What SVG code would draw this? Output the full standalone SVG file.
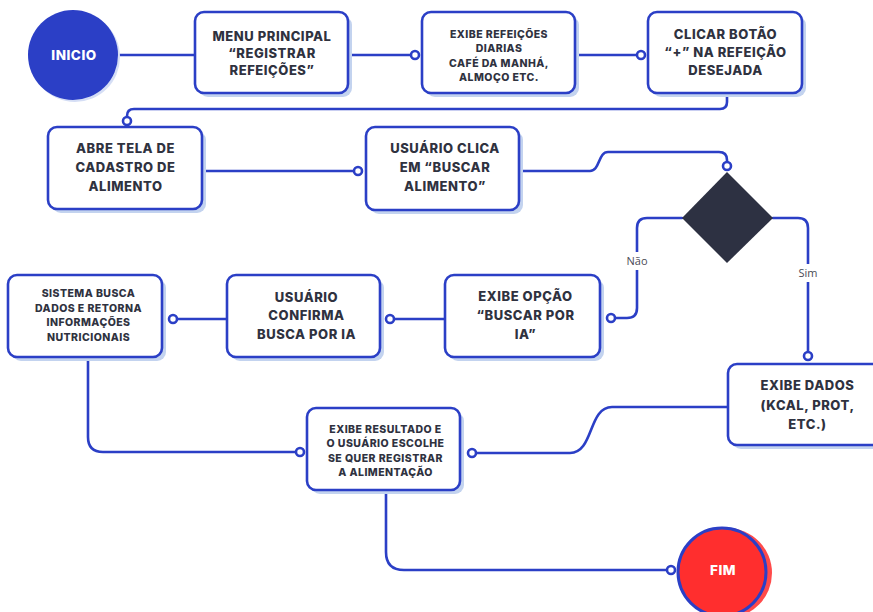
<svg xmlns="http://www.w3.org/2000/svg" width="873" height="612" viewBox="0 0 873 612">
<defs>
<style>
.box{fill:#ffffff;stroke:#2b3fc6;stroke-width:2.6}
.sh{fill:#c3d3ef}
.t{font-family:Inter,"Liberation Sans",sans-serif;font-weight:800;fill:#2f323f;text-anchor:middle}
.big{font-size:13px;letter-spacing:0.55px}
.sm{font-size:10.5px;letter-spacing:0.45px}
.w{font-family:Inter,"Liberation Sans",sans-serif;font-weight:800;fill:#ffffff;text-anchor:middle;font-size:13.5px;letter-spacing:0.5px}
.c{fill:none;stroke:#2b3fc6;stroke-width:2.6;stroke-linecap:round;stroke-linejoin:round}
.dot{fill:#ffffff;stroke:#2b3fc6;stroke-width:2.6}
.lbl{font-family:"Open Sans","Liberation Sans",sans-serif;font-size:11px;fill:#4a4a55;text-anchor:middle}
</style>
</defs>
<rect width="873" height="612" fill="#ffffff"/>

<g id="connectors">
<path class="c" d="M118,55 H195"/>
<path class="c" d="M348,55 H411"/>
<circle class="dot" cx="415" cy="55" r="4"/>
<path class="c" d="M575,55 H637"/>
<circle class="dot" cx="641" cy="55" r="4"/>
<path class="c" d="M727,93 V102 Q727,109 720,109 H134 Q127,109 127,116 V117"/>
<circle class="dot" cx="127" cy="121" r="4"/>
<path class="c" d="M202,171 H354"/>
<circle class="dot" cx="358" cy="171" r="4"/>
<path class="c" d="M519,171 H590 C600,171 598,152 608,152 H719 Q727,152 727,160 V162"/>
<circle class="dot" cx="727" cy="166" r="4"/>
<path class="c" d="M682,218 H647 Q637,218 637,228 V308 Q637,318 627,318 H615"/>
<circle class="dot" cx="611" cy="318" r="4"/>
<path class="c" d="M773,218 H798 Q808,218 808,228 V352"/>
<circle class="dot" cx="808" cy="356" r="4"/>
<path class="c" d="M445,319 H394"/>
<circle class="dot" cx="390" cy="319" r="4"/>
<path class="c" d="M227,319 H177"/>
<circle class="dot" cx="173" cy="319" r="4"/>
<path class="c" d="M88,357 V437 Q88,452 103,452 H296"/>
<circle class="dot" cx="300" cy="452" r="4"/>
<path class="c" d="M476,453 H570 C594,453 588,407 612,407 H728"/>
<circle class="dot" cx="472" cy="453" r="4"/>
<path class="c" d="M386,490 V552 Q386,570 404,570 H667"/>
<circle class="dot" cx="671" cy="570" r="4"/>
<rect x="624" y="252" width="26" height="18" fill="#ffffff"/>
<text class="lbl" x="637" y="265">Não</text>
<rect x="794" y="264" width="28" height="18" fill="#ffffff"/>
<text class="lbl" x="808" y="277">Sim</text>
</g>

<g id="inicio">
<circle cx="75" cy="57" r="45" fill="#d5def5"/>
<circle cx="73" cy="55" r="45" fill="#2b3fc6"/>
<text class="w" x="74" y="60">INICIO</text>
</g>

<g id="menu-principal">
<rect class="sh" x="199" y="16" width="153" height="81" rx="9"/>
<rect class="box" x="195" y="12" width="153" height="81" rx="9"/>
<text class="t big" x="272" y="40.5">MENU PRINCIPAL</text>
<text class="t big" x="272" y="58">“REGISTRAR</text>
<text class="t big" x="272" y="75">REFEIÇÕES”</text>
</g>

<g id="exibe-refeicoes">
<rect class="sh" x="426" y="16" width="153" height="81" rx="9"/>
<rect class="box" x="422" y="12" width="153" height="81" rx="9"/>
<text class="t sm" x="499" y="38">EXIBE REFEIÇÕES</text>
<text class="t sm" x="499" y="52">DIARIAS</text>
<text class="t sm" x="499" y="66.5">CAFÉ DA MANHÁ,</text>
<text class="t sm" x="499" y="81">ALMOÇO ETC.</text>
</g>

<g id="clicar-botao">
<rect class="sh" x="652" y="16" width="154" height="81" rx="9"/>
<rect class="box" x="648" y="12" width="154" height="81" rx="9"/>
<text class="t big" x="725.5" y="38.5">CLICAR BOTÃO</text>
<text class="t big" x="725.5" y="57">“+” NA REFEIÇÃO</text>
<text class="t big" x="725.5" y="75">DESEJADA</text>
</g>

<g id="abre-tela">
<rect class="sh" x="52" y="131" width="154" height="82" rx="9"/>
<rect class="box" x="48" y="127" width="154" height="82" rx="9"/>
<text class="t big" x="125.5" y="153">ABRE TELA DE</text>
<text class="t big" x="125.5" y="171.5">CADASTRO DE</text>
<text class="t big" x="125.5" y="190.5">ALIMENTO</text>
</g>

<g id="usuario-clica">
<rect class="sh" x="370" y="131" width="153" height="83" rx="9"/>
<rect class="box" x="366" y="127" width="153" height="83" rx="9"/>
<text class="t big" x="445" y="153.3">USUÁRIO CLICA</text>
<text class="t big" x="445" y="172.3">EM “BUSCAR</text>
<text class="t big" x="445" y="191">ALIMENTO”</text>
</g>

<g id="decisao">
<polygon points="727,172 773,218 727,263 682,218" fill="#2d3142"/>
</g>

<g id="sistema-busca">
<rect class="sh" x="12" y="279" width="154" height="82" rx="9"/>
<rect class="box" x="8" y="275" width="154" height="82" rx="9"/>
<text class="t sm" x="88.5" y="297.3">SISTEMA BUSCA</text>
<text class="t sm" x="88.5" y="311.7">DADOS E RETORNA</text>
<text class="t sm" x="88.5" y="326">INFORMAÇÕES</text>
<text class="t sm" x="88.5" y="340.7">NUTRICIONAIS</text>
</g>

<g id="usuario-confirma">
<rect class="sh" x="231" y="279" width="153" height="82" rx="9"/>
<rect class="box" x="227" y="275" width="153" height="82" rx="9"/>
<text class="t big" x="306.5" y="301.5">USUÁRIO</text>
<text class="t big" x="306.5" y="320">CONFIRMA</text>
<text class="t big" x="306.5" y="339">BUSCA POR IA</text>
</g>

<g id="exibe-opcao">
<rect class="sh" x="449" y="279" width="155" height="82" rx="9"/>
<rect class="box" x="445" y="275" width="155" height="82" rx="9"/>
<text class="t big" x="525.5" y="300.5">EXIBE OPÇÃO</text>
<text class="t big" x="525.5" y="320">“BUSCAR POR</text>
<text class="t big" x="525.5" y="338.5">IA”</text>
</g>

<g id="exibe-dados">
<rect class="sh" x="732" y="368" width="160" height="81" rx="9"/>
<rect class="box" x="728" y="364" width="160" height="81" rx="9"/>
<text class="t big" x="807.5" y="390">EXIBE DADOS</text>
<text class="t big" x="807.5" y="410">(KCAL, PROT,</text>
<text class="t big" x="807.5" y="428.5">ETC.)</text>
</g>

<g id="exibe-resultado">
<rect class="sh" x="311" y="412" width="153" height="82" rx="9"/>
<rect class="box" x="307" y="408" width="153" height="82" rx="9"/>
<text class="t sm" x="385.5" y="432.7">EXIBE RESULTADO E</text>
<text class="t sm" x="385.5" y="447">O USUÁRIO ESCOLHE</text>
<text class="t sm" x="385.5" y="461.7">SE QUER REGISTRAR</text>
<text class="t sm" x="385.5" y="476">A ALIMENTAÇÃO</text>
</g>

<g id="fim">
<circle cx="727" cy="573" r="45" fill="#ff4a4a"/>
<circle cx="722" cy="572" r="44" fill="#ff2e2e" stroke="#2b3fc6" stroke-width="3"/>
<text class="w" x="723" y="575" font-size="12.5">FIM</text>
</g>
</svg>
